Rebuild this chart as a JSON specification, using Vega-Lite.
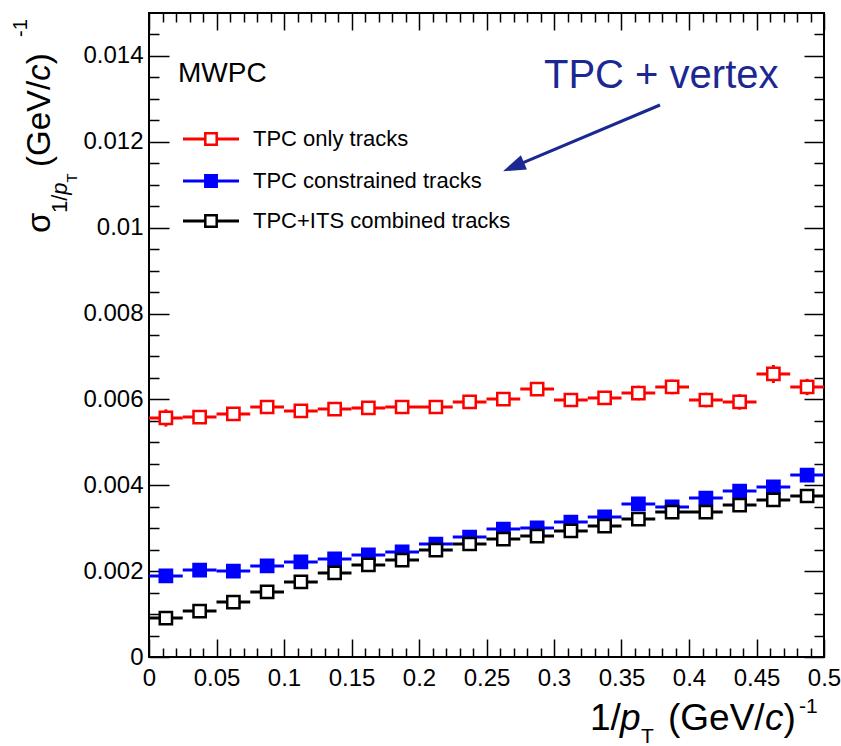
{
  "$schema": "https://vega.github.io/schema/vega-lite/v6.json",
  "width": 675,
  "height": 644,
  "autosize": "none",
  "padding": {"left": 149, "top": 13, "right": 17, "bottom": 89},
  "background": "white",
  "config": {
    "font": "Liberation Sans",
    "view": {"stroke": "black", "strokeWidth": 2},
    "axis": {"grid": false, "domain": false, "tickColor": "black", "tickWidth": 1.5, "labelFont": "Liberation Sans", "labelColor": "black"},
    "text": {"font": "Liberation Sans", "color": "black"}
  },
  "data": {"values": [
    {"s":"TPC only tracks","x":0.0125,"xl":0,"xh":0.025,"y":0.005567,"yl":0.005367,"yh":0.005767},
    {"s":"TPC only tracks","x":0.0375,"xl":0.025,"xh":0.05,"y":0.00559,"yl":0.00545,"yh":0.00573},
    {"s":"TPC only tracks","x":0.0625,"xl":0.05,"xh":0.075,"y":0.00566,"yl":0.00552,"yh":0.0058},
    {"s":"TPC only tracks","x":0.0875,"xl":0.075,"xh":0.1,"y":0.005823,"yl":0.005683,"yh":0.005963},
    {"s":"TPC only tracks","x":0.1125,"xl":0.1,"xh":0.125,"y":0.00573,"yl":0.00559,"yh":0.00587},
    {"s":"TPC only tracks","x":0.1375,"xl":0.125,"xh":0.15,"y":0.005776,"yl":0.005636,"yh":0.005916},
    {"s":"TPC only tracks","x":0.1625,"xl":0.15,"xh":0.175,"y":0.0058,"yl":0.00566,"yh":0.00594},
    {"s":"TPC only tracks","x":0.1875,"xl":0.175,"xh":0.2,"y":0.005823,"yl":0.005673,"yh":0.005973},
    {"s":"TPC only tracks","x":0.2125,"xl":0.2,"xh":0.225,"y":0.005823,"yl":0.005673,"yh":0.005973},
    {"s":"TPC only tracks","x":0.2375,"xl":0.225,"xh":0.25,"y":0.00594,"yl":0.00579,"yh":0.00609},
    {"s":"TPC only tracks","x":0.2625,"xl":0.25,"xh":0.275,"y":0.006009,"yl":0.005859,"yh":0.006159},
    {"s":"TPC only tracks","x":0.2875,"xl":0.275,"xh":0.3,"y":0.006242,"yl":0.006082,"yh":0.006402},
    {"s":"TPC only tracks","x":0.3125,"xl":0.3,"xh":0.325,"y":0.005986,"yl":0.005826,"yh":0.006146},
    {"s":"TPC only tracks","x":0.3375,"xl":0.325,"xh":0.35,"y":0.006033,"yl":0.005873,"yh":0.006193},
    {"s":"TPC only tracks","x":0.3625,"xl":0.35,"xh":0.375,"y":0.006149,"yl":0.005979,"yh":0.006319},
    {"s":"TPC only tracks","x":0.3875,"xl":0.375,"xh":0.4,"y":0.006289,"yl":0.006119,"yh":0.006459},
    {"s":"TPC only tracks","x":0.4125,"xl":0.4,"xh":0.425,"y":0.005986,"yl":0.005816,"yh":0.006156},
    {"s":"TPC only tracks","x":0.4375,"xl":0.425,"xh":0.45,"y":0.00594,"yl":0.00576,"yh":0.00612},
    {"s":"TPC only tracks","x":0.4625,"xl":0.45,"xh":0.475,"y":0.006592,"yl":0.006382,"yh":0.006802},
    {"s":"TPC only tracks","x":0.4875,"xl":0.475,"xh":0.5,"y":0.006289,"yl":0.006099,"yh":0.006479},
    {"s":"TPC constrained tracks","x":0.0125,"xl":0,"xh":0.025,"y":0.001887,"yl":0.001787,"yh":0.001987},
    {"s":"TPC constrained tracks","x":0.0375,"xl":0.025,"xh":0.05,"y":0.002026,"yl":0.001926,"yh":0.002126},
    {"s":"TPC constrained tracks","x":0.0625,"xl":0.05,"xh":0.075,"y":0.002003,"yl":0.001903,"yh":0.002103},
    {"s":"TPC constrained tracks","x":0.0875,"xl":0.075,"xh":0.1,"y":0.00212,"yl":0.00202,"yh":0.00222},
    {"s":"TPC constrained tracks","x":0.1125,"xl":0.1,"xh":0.125,"y":0.002213,"yl":0.002113,"yh":0.002313},
    {"s":"TPC constrained tracks","x":0.1375,"xl":0.125,"xh":0.15,"y":0.002283,"yl":0.002183,"yh":0.002383},
    {"s":"TPC constrained tracks","x":0.1625,"xl":0.15,"xh":0.175,"y":0.002376,"yl":0.002276,"yh":0.002476},
    {"s":"TPC constrained tracks","x":0.1875,"xl":0.175,"xh":0.2,"y":0.002446,"yl":0.002346,"yh":0.002546},
    {"s":"TPC constrained tracks","x":0.2125,"xl":0.2,"xh":0.225,"y":0.002632,"yl":0.002532,"yh":0.002732},
    {"s":"TPC constrained tracks","x":0.2375,"xl":0.225,"xh":0.25,"y":0.002795,"yl":0.002695,"yh":0.002895},
    {"s":"TPC constrained tracks","x":0.2625,"xl":0.25,"xh":0.275,"y":0.002981,"yl":0.002881,"yh":0.003081},
    {"s":"TPC constrained tracks","x":0.2875,"xl":0.275,"xh":0.3,"y":0.003005,"yl":0.002905,"yh":0.003105},
    {"s":"TPC constrained tracks","x":0.3125,"xl":0.3,"xh":0.325,"y":0.003144,"yl":0.003044,"yh":0.003244},
    {"s":"TPC constrained tracks","x":0.3375,"xl":0.325,"xh":0.35,"y":0.003261,"yl":0.003161,"yh":0.003361},
    {"s":"TPC constrained tracks","x":0.3625,"xl":0.35,"xh":0.375,"y":0.003564,"yl":0.003464,"yh":0.003664},
    {"s":"TPC constrained tracks","x":0.3875,"xl":0.375,"xh":0.4,"y":0.003494,"yl":0.003394,"yh":0.003594},
    {"s":"TPC constrained tracks","x":0.4125,"xl":0.4,"xh":0.425,"y":0.003703,"yl":0.003603,"yh":0.003803},
    {"s":"TPC constrained tracks","x":0.4375,"xl":0.425,"xh":0.45,"y":0.003866,"yl":0.003766,"yh":0.003966},
    {"s":"TPC constrained tracks","x":0.4625,"xl":0.45,"xh":0.475,"y":0.00396,"yl":0.00386,"yh":0.00406},
    {"s":"TPC constrained tracks","x":0.4875,"xl":0.475,"xh":0.5,"y":0.004239,"yl":0.004139,"yh":0.004339},
    {"s":"TPC+ITS combined tracks","x":0.0125,"xl":0,"xh":0.025,"y":0.000908,"yl":0.000808,"yh":0.001008},
    {"s":"TPC+ITS combined tracks","x":0.0375,"xl":0.025,"xh":0.05,"y":0.001071,"yl":0.000971,"yh":0.001171},
    {"s":"TPC+ITS combined tracks","x":0.0625,"xl":0.05,"xh":0.075,"y":0.001281,"yl":0.001181,"yh":0.001381},
    {"s":"TPC+ITS combined tracks","x":0.0875,"xl":0.075,"xh":0.1,"y":0.001514,"yl":0.001414,"yh":0.001614},
    {"s":"TPC+ITS combined tracks","x":0.1125,"xl":0.1,"xh":0.125,"y":0.001747,"yl":0.001647,"yh":0.001847},
    {"s":"TPC+ITS combined tracks","x":0.1375,"xl":0.125,"xh":0.15,"y":0.001957,"yl":0.001857,"yh":0.002057},
    {"s":"TPC+ITS combined tracks","x":0.1625,"xl":0.15,"xh":0.175,"y":0.002143,"yl":0.002043,"yh":0.002243},
    {"s":"TPC+ITS combined tracks","x":0.1875,"xl":0.175,"xh":0.2,"y":0.002259,"yl":0.002159,"yh":0.002359},
    {"s":"TPC+ITS combined tracks","x":0.2125,"xl":0.2,"xh":0.225,"y":0.002492,"yl":0.002392,"yh":0.002592},
    {"s":"TPC+ITS combined tracks","x":0.2375,"xl":0.225,"xh":0.25,"y":0.002632,"yl":0.002532,"yh":0.002732},
    {"s":"TPC+ITS combined tracks","x":0.2625,"xl":0.25,"xh":0.275,"y":0.002748,"yl":0.002648,"yh":0.002848},
    {"s":"TPC+ITS combined tracks","x":0.2875,"xl":0.275,"xh":0.3,"y":0.002818,"yl":0.002718,"yh":0.002918},
    {"s":"TPC+ITS combined tracks","x":0.3125,"xl":0.3,"xh":0.325,"y":0.002935,"yl":0.002835,"yh":0.003035},
    {"s":"TPC+ITS combined tracks","x":0.3375,"xl":0.325,"xh":0.35,"y":0.003051,"yl":0.002951,"yh":0.003151},
    {"s":"TPC+ITS combined tracks","x":0.3625,"xl":0.35,"xh":0.375,"y":0.003214,"yl":0.003114,"yh":0.003314},
    {"s":"TPC+ITS combined tracks","x":0.3875,"xl":0.375,"xh":0.4,"y":0.003377,"yl":0.003277,"yh":0.003477},
    {"s":"TPC+ITS combined tracks","x":0.4125,"xl":0.4,"xh":0.425,"y":0.003377,"yl":0.003277,"yh":0.003477},
    {"s":"TPC+ITS combined tracks","x":0.4375,"xl":0.425,"xh":0.45,"y":0.00354,"yl":0.00344,"yh":0.00364},
    {"s":"TPC+ITS combined tracks","x":0.4625,"xl":0.45,"xh":0.475,"y":0.003657,"yl":0.003557,"yh":0.003757},
    {"s":"TPC+ITS combined tracks","x":0.4875,"xl":0.475,"xh":0.5,"y":0.00375,"yl":0.00365,"yh":0.00385}
  ]},
  "resolve": {"axis": {"x": "independent", "y": "independent"}},
  "layer": [
    {
      "mark": {"type": "rule", "strokeWidth": 3},
      "encoding": {
        "x": {"field": "xl", "type": "quantitative", "scale": {"domain": [0, 0.5], "nice": false, "zero": false},
              "axis": {"orient": "bottom", "title": null, "values": [0,0.05,0.1,0.15,0.2,0.25,0.3,0.35,0.4,0.45,0.5], "format": "~g", "labelFontSize": 24, "labelPadding": 27, "tickSize": -18, "labelFlush": false, "labelOverlap": false}},
        "x2": {"field": "xh"},
        "y": {"field": "y", "type": "quantitative", "scale": {"domain": [0, 0.015], "nice": false, "zero": false},
              "axis": {"orient": "left", "title": null, "values": [0,0.002,0.004,0.006,0.008,0.01,0.012,0.014], "format": "~g", "labelFontSize": 24, "labelPadding": 26, "tickSize": -20, "labelOverlap": false}},
        "color": {"field": "s", "type": "nominal", "scale": {"domain": ["TPC only tracks","TPC constrained tracks","TPC+ITS combined tracks"], "range": ["#ff0000","#0000ff","#000000"]}, "legend": null}
      }
    },
    {
      "mark": {"type": "rule", "strokeWidth": 3},
      "encoding": {
        "x": {"field": "x", "type": "quantitative",
              "axis": {"orient": "bottom", "title": null, "labels": false, "tickSize": -9, "values": [0.01,0.02,0.03,0.04,0.06,0.07,0.08,0.09,0.11,0.12,0.13,0.14,0.16,0.17,0.18,0.19,0.21,0.22,0.23,0.24,0.26,0.27,0.28,0.29,0.31,0.32,0.33,0.34,0.36,0.37,0.38,0.39,0.41,0.42,0.43,0.44,0.46,0.47,0.48,0.49]}},
        "y": {"field": "yl", "type": "quantitative",
              "axis": {"orient": "left", "title": null, "labels": false, "tickSize": -10, "values": [0.0005,0.001,0.0015,0.0025,0.003,0.0035,0.0045,0.005,0.0055,0.0065,0.007,0.0075,0.0085,0.009,0.0095,0.0105,0.011,0.0115,0.0125,0.013,0.0135,0.0145]}},
        "y2": {"field": "yh"},
        "color": {"field": "s", "type": "nominal", "legend": null}
      }
    },
    {
      "mark": {"type": "point", "shape": "square", "size": 150, "strokeWidth": 2.5, "opacity": 1},
      "encoding": {
        "x": {"field": "x", "type": "quantitative",
              "axis": {"orient": "top", "title": null, "labels": false, "tickSize": -17, "values": [0,0.05,0.1,0.15,0.2,0.25,0.3,0.35,0.4,0.45,0.5]}},
        "y": {"field": "y", "type": "quantitative",
              "axis": {"orient": "right", "title": null, "labels": false, "tickSize": -20, "values": [0,0.002,0.004,0.006,0.008,0.01,0.012,0.014]}},
        "stroke": {"field": "s", "type": "nominal", "scale": {"domain": ["TPC only tracks","TPC constrained tracks","TPC+ITS combined tracks"], "range": ["#ff0000","#0000ff","#000000"]}, "legend": null},
        "fill": {"field": "s", "type": "nominal", "scale": {"domain": ["TPC only tracks","TPC constrained tracks","TPC+ITS combined tracks"], "range": ["#ffffff","#0000ff","#ffffff"]}, "legend": null}
      }
    },
    {
      "data": {"values": [{}]},
      "mark": {"type": "text", "text": "MWPC", "align": "left", "baseline": "alphabetic", "fontSize": 28, "color": "black"},
      "encoding": {
        "x": {"datum": 0.02148, "type": "quantitative",
              "axis": {"orient": "top", "title": null, "labels": false, "tickSize": -9, "values": [0.01,0.02,0.03,0.04,0.06,0.07,0.08,0.09,0.11,0.12,0.13,0.14,0.16,0.17,0.18,0.19,0.21,0.22,0.23,0.24,0.26,0.27,0.28,0.29,0.31,0.32,0.33,0.34,0.36,0.37,0.38,0.39,0.41,0.42,0.43,0.44,0.46,0.47,0.48,0.49]}},
        "y": {"datum": 0.013393, "type": "quantitative",
              "axis": {"orient": "right", "title": null, "labels": false, "tickSize": -10, "values": [0.0005,0.001,0.0015,0.0025,0.003,0.0035,0.0045,0.005,0.0055,0.0065,0.007,0.0075,0.0085,0.009,0.0095,0.0105,0.011,0.0115,0.0125,0.013,0.0135,0.0145]}}
      }
    },
    {"data": {"values": [{}]}, "mark": {"type": "rule", "strokeWidth": 3, "color": "#ff0000"}, "encoding": {"x": {"datum": 0.025185, "type": "quantitative", "axis": null}, "x2": {"datum": 0.066667}, "y": {"datum": 0.012065, "type": "quantitative", "axis": null}}},
    {"data": {"values": [{}]}, "mark": {"type": "point", "shape": "square", "size": 130, "strokeWidth": 2.5, "opacity": 1, "stroke": "#ff0000", "fill": "#ffffff"}, "encoding": {"x": {"datum": 0.045926, "type": "quantitative", "axis": null}, "y": {"datum": 0.012065, "type": "quantitative", "axis": null}}},
    {"data": {"values": [{}]}, "mark": {"type": "text", "text": "TPC only tracks", "align": "left", "baseline": "middle", "fontSize": 22}, "encoding": {"x": {"datum": 0.077037, "type": "quantitative", "axis": null}, "y": {"datum": 0.012065, "type": "quantitative", "axis": null}}},
    {"data": {"values": [{}]}, "mark": {"type": "rule", "strokeWidth": 3, "color": "#0000ff"}, "encoding": {"x": {"datum": 0.025185, "type": "quantitative", "axis": null}, "x2": {"datum": 0.066667}, "y": {"datum": 0.011087, "type": "quantitative", "axis": null}}},
    {"data": {"values": [{}]}, "mark": {"type": "point", "shape": "square", "size": 130, "strokeWidth": 2.5, "opacity": 1, "stroke": "#0000ff", "fill": "#0000ff"}, "encoding": {"x": {"datum": 0.045926, "type": "quantitative", "axis": null}, "y": {"datum": 0.011087, "type": "quantitative", "axis": null}}},
    {"data": {"values": [{}]}, "mark": {"type": "text", "text": "TPC constrained tracks", "align": "left", "baseline": "middle", "fontSize": 22}, "encoding": {"x": {"datum": 0.077037, "type": "quantitative", "axis": null}, "y": {"datum": 0.011087, "type": "quantitative", "axis": null}}},
    {"data": {"values": [{}]}, "mark": {"type": "rule", "strokeWidth": 3, "color": "#000000"}, "encoding": {"x": {"datum": 0.025185, "type": "quantitative", "axis": null}, "x2": {"datum": 0.066667}, "y": {"datum": 0.010155, "type": "quantitative", "axis": null}}},
    {"data": {"values": [{}]}, "mark": {"type": "point", "shape": "square", "size": 130, "strokeWidth": 2.5, "opacity": 1, "stroke": "#000000", "fill": "#ffffff"}, "encoding": {"x": {"datum": 0.045926, "type": "quantitative", "axis": null}, "y": {"datum": 0.010155, "type": "quantitative", "axis": null}}},
    {"data": {"values": [{}]}, "mark": {"type": "text", "text": "TPC+ITS combined tracks", "align": "left", "baseline": "middle", "fontSize": 22}, "encoding": {"x": {"datum": 0.077037, "type": "quantitative", "axis": null}, "y": {"datum": 0.010155, "type": "quantitative", "axis": null}}},
    {
      "data": {"values": [{}]},
      "mark": {"type": "text", "text": "TPC + vertex", "align": "left", "baseline": "alphabetic", "fontSize": 40, "color": "#1c2891"},
      "encoding": {"x": {"datum": 0.29259, "type": "quantitative", "axis": null}, "y": {"datum": 0.013253, "type": "quantitative", "axis": null}}
    },
    {
      "data": {"values": [{}]},
      "mark": {"type": "rule", "strokeWidth": 3, "color": "#1c2891"},
      "encoding": {"x": {"datum": 0.37852, "type": "quantitative", "axis": null}, "y": {"datum": 0.012857, "type": "quantitative", "axis": null}, "x2": {"datum": 0.27193}, "y2": {"datum": 0.011443}}
    },
    {
      "data": {"values": [{}]},
      "mark": {"type": "point", "shape": "M0,-1L-0.55,0.6L0.55,0.6Z", "size": 800, "angle": 247, "filled": true, "color": "#1c2891", "opacity": 1},
      "encoding": {"x": {"datum": 0.27193, "type": "quantitative", "axis": null}, "y": {"datum": 0.011443, "type": "quantitative", "axis": null}}
    },
    {"data": {"values": [{}]}, "mark": {"type": "text", "text": "1/", "align": "left", "baseline": "alphabetic", "fontSize": 37}, "encoding": {"x": {"datum": 0.32667, "type": "quantitative", "axis": null}, "y": {"datum": -0.0017003, "type": "quantitative", "axis": null}}},
    {"data": {"values": [{}]}, "mark": {"type": "text", "text": "p", "align": "left", "baseline": "alphabetic", "fontSize": 37, "fontStyle": "italic"}, "encoding": {"x": {"datum": 0.34889, "type": "quantitative", "axis": null}, "y": {"datum": -0.0017003, "type": "quantitative", "axis": null}}},
    {"data": {"values": [{}]}, "mark": {"type": "text", "text": "T", "align": "left", "baseline": "alphabetic", "fontSize": 21}, "encoding": {"x": {"datum": 0.36444, "type": "quantitative", "axis": null}, "y": {"datum": -0.002003, "type": "quantitative", "axis": null}}},
    {"data": {"values": [{}]}, "mark": {"type": "text", "text": "(GeV/", "align": "left", "baseline": "alphabetic", "fontSize": 37}, "encoding": {"x": {"datum": 0.38444, "type": "quantitative", "axis": null}, "y": {"datum": -0.0017003, "type": "quantitative", "axis": null}}},
    {"data": {"values": [{}]}, "mark": {"type": "text", "text": "c", "align": "left", "baseline": "alphabetic", "fontSize": 37, "fontStyle": "italic"}, "encoding": {"x": {"datum": 0.45630, "type": "quantitative", "axis": null}, "y": {"datum": -0.0017003, "type": "quantitative", "axis": null}}},
    {"data": {"values": [{}]}, "mark": {"type": "text", "text": ")", "align": "left", "baseline": "alphabetic", "fontSize": 37}, "encoding": {"x": {"datum": 0.47000, "type": "quantitative", "axis": null}, "y": {"datum": -0.0017003, "type": "quantitative", "axis": null}}},
    {"data": {"values": [{}]}, "mark": {"type": "text", "text": "-1", "align": "left", "baseline": "alphabetic", "fontSize": 21}, "encoding": {"x": {"datum": 0.48148, "type": "quantitative", "axis": null}, "y": {"datum": -0.0013044, "type": "quantitative", "axis": null}}},
    {"data": {"values": [{}]}, "mark": {"type": "text", "text": "σ", "align": "left", "baseline": "alphabetic", "fontSize": 33, "angle": 270}, "encoding": {"x": {"datum": -0.07333, "type": "quantitative", "axis": null}, "y": {"datum": 0.009876, "type": "quantitative", "axis": null}}},
    {"data": {"values": [{}]}, "mark": {"type": "text", "text": "1/", "align": "left", "baseline": "alphabetic", "fontSize": 22, "angle": 270}, "encoding": {"x": {"datum": -0.06074, "type": "quantitative", "axis": null}, "y": {"datum": 0.010342, "type": "quantitative", "axis": null}}},
    {"data": {"values": [{}]}, "mark": {"type": "text", "text": "p", "align": "left", "baseline": "alphabetic", "fontSize": 22, "fontStyle": "italic", "angle": 270}, "encoding": {"x": {"datum": -0.06074, "type": "quantitative", "axis": null}, "y": {"datum": 0.010768, "type": "quantitative", "axis": null}}},
    {"data": {"values": [{}]}, "mark": {"type": "text", "text": "T", "align": "left", "baseline": "alphabetic", "fontSize": 15, "angle": 270}, "encoding": {"x": {"datum": -0.05333, "type": "quantitative", "axis": null}, "y": {"datum": 0.011052, "type": "quantitative", "axis": null}}},
    {"data": {"values": [{}]}, "mark": {"type": "text", "text": "(GeV/", "align": "left", "baseline": "alphabetic", "fontSize": 33, "angle": 270}, "encoding": {"x": {"datum": -0.07333, "type": "quantitative", "axis": null}, "y": {"datum": 0.011413, "type": "quantitative", "axis": null}}},
    {"data": {"values": [{}]}, "mark": {"type": "text", "text": "c", "align": "left", "baseline": "alphabetic", "fontSize": 33, "fontStyle": "italic", "angle": 270}, "encoding": {"x": {"datum": -0.07333, "type": "quantitative", "axis": null}, "y": {"datum": 0.013421, "type": "quantitative", "axis": null}}},
    {"data": {"values": [{}]}, "mark": {"type": "text", "text": ")", "align": "left", "baseline": "alphabetic", "fontSize": 33, "angle": 270}, "encoding": {"x": {"datum": -0.07333, "type": "quantitative", "axis": null}, "y": {"datum": 0.013805, "type": "quantitative", "axis": null}}},
    {"data": {"values": [{}]}, "mark": {"type": "text", "text": "-1", "align": "left", "baseline": "alphabetic", "fontSize": 20, "angle": 270}, "encoding": {"x": {"datum": -0.09037, "type": "quantitative", "axis": null}, "y": {"datum": 0.014441, "type": "quantitative", "axis": null}}}
  ]
}
